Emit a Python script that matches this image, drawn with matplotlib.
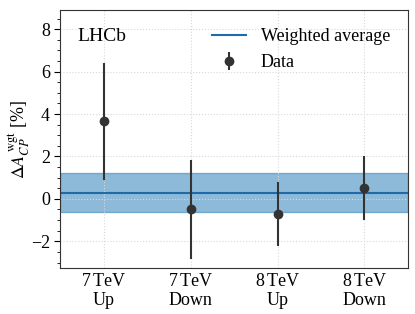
import matplotlib
matplotlib.use("Agg")
import matplotlib.pyplot as plt
from matplotlib.ticker import MultipleLocator

categories = ["7$\\,$TeV\nUp", "7$\\,$TeV\nDown", "8$\\,$TeV\nUp", "8$\\,$TeV\nDown"]
values = [3.65, -0.5, -0.7, 0.5]
errors = [2.75, 2.35, 1.5, 1.5]
avg = 0.3
avg_err = 0.92

plt.rcParams['font.family'] = ['Liberation Serif', 'DejaVu Serif']
plt.rcParams['mathtext.fontset'] = 'stix'
plt.rcParams['font.size'] = 13

fig, ax = plt.subplots(figsize=(4.15, 3.14), dpi=100)
fig.subplots_adjust(left=0.145, right=0.983, top=0.968, bottom=0.147)

x = list(range(len(categories)))
ax.axhspan(avg - avg_err, avg + avg_err, facecolor='#1f77b4', alpha=0.5,
           edgecolor='#1f77b4', lw=1, zorder=0.3)
ax.axhline(avg, color='#1f6aa8', lw=1.5, label='Weighted average', zorder=2)
ax.errorbar(x, values, yerr=errors, fmt='o', color='#333333', ms=6, lw=1.5,
            label='Data', zorder=3)

ax.set_xlim(-0.5, 3.5)
ax.set_ylim(-3.25, 8.9)
ax.set_xticks(x)
ax.set_xticklabels(categories)
ax.yaxis.set_major_locator(MultipleLocator(2))
ax.yaxis.set_minor_locator(MultipleLocator(0.5))
ax.tick_params(axis='y', which='major', direction='out', length=4)
ax.tick_params(axis='y', which='minor', direction='out', length=2)
ax.tick_params(axis='x', length=0)
for s in ax.spines.values():
    s.set_color('#333333')
ax.set_axisbelow(True)
ax.grid(True, linestyle=':', color='#d8d8d8', lw=0.8)
ax.set_ylabel(r'$\Delta A_{CP}^{\,\mathrm{wgt}}$ [%]')
ax.yaxis.set_label_coords(-0.08, 0.5)
ax.text(0.05, 0.93, 'LHCb', transform=ax.transAxes, fontsize=14, va='top')
ax.legend(loc='upper right', frameon=False, fontsize=13, handlelength=1.9,
          borderaxespad=0.6)

fig.savefig('out.png', dpi=100)
